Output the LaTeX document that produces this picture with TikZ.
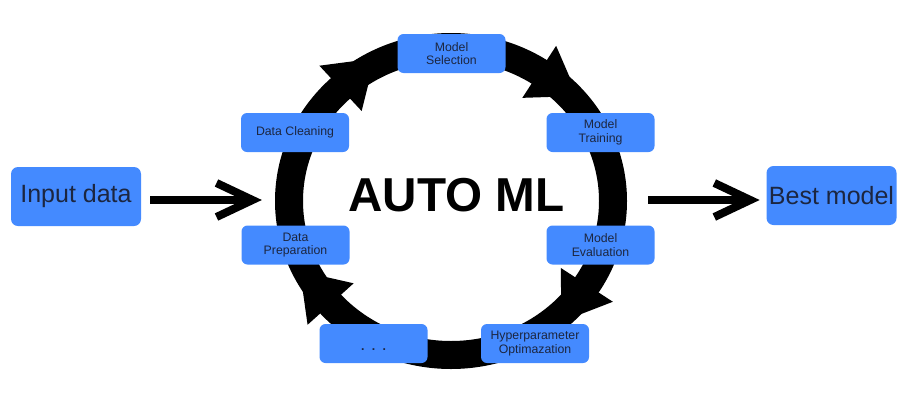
\documentclass[tikz,border=0pt]{standalone}
\usepackage{fontspec}
\setmainfont{Liberation Sans}
\definecolor{boxblue}{RGB}{68,138,255}
\definecolor{txt}{RGB}{28,38,64}
\newcommand{\ringhead}[1]{%
  \fill ({451+193*cos(#1)},{201-185*sin(#1)}) -- ({451+168*cos(#1-16)},{201-160*sin(#1-16)}) -- ({451+131*cos(#1)},{201-123*sin(#1)}) -- cycle;}
\begin{document}
\begin{tikzpicture}[x=1pt,y=-1pt,
  box/.style={fill=boxblue, rounded corners=6pt, minimum width=108pt, minimum height=39pt, inner sep=0pt, align=center, text=txt, font=\fontsize{12.3}{13.5}\selectfont},
  bigbox/.style={fill=boxblue, rounded corners=7pt, minimum width=130pt, minimum height=59pt, inner sep=0pt, text=txt, font=\fontsize{25}{30}\selectfont},
  ring/.style={line width=28pt},
  flow/.style={line width=8pt},
  chev/.style={line width=8pt, miter limit=10}]
\useasboundingbox (0,0) rectangle (902,402);
% ring
\draw[ring] (451,201) ellipse [x radius=162pt, y radius=154pt];
\ringhead{133}
\ringhead{57}
\ringhead{-33}
\ringhead{222}
% boxes
\node[box] (sel) at (451.5,53.5) {Model\\Selection};
\node[box] (train) at (600.5,132.5) {Model\\Training};
\node[box] (clean) at (295,132.5) {Data Cleaning};
\node[box] (prep) at (295.5,245) {Data\\Preparation};
\node[box] (eval) at (600.5,245) {Model\\Evaluation};
\node[box, text height=14pt, text depth=0pt] (dots) at (373.5,343.5) {\textbf{.}\hspace{7.3pt}\textbf{.}\hspace{7.3pt}\textbf{.}};
\node[box] (hyper) at (535,343.5) {Hyperparameter\\Optimazation};
\node[font=\fontsize{47.6}{50}\bfseries\selectfont, inner sep=0pt] (automl) at (456.5,195.5) {AUTO ML};
\node[bigbox] (in) at (76,196.5) {Input data};
\node[bigbox] (best) at (831.5,195.5) {Best model};
% connectors
\coordinate (ringW) at (273,200);
\coordinate (ringE) at (629,200);
\coordinate (bestW) at (best.west |- ringE);
\draw[flow, shorten <=9pt, shorten >=20pt] (in.east |- ringW) -- (ringW);
\draw[chev] ([shift={(-56.5,-17)}]ringW) -- ([shift={(-20.5,0)}]ringW) -- ([shift={(-56.5,17)}]ringW);
\draw[flow, shorten <=19pt, shorten >=16pt] (ringE) -- (bestW);
\draw[chev] ([shift={(-52,-17)}]bestW) -- ([shift={(-16,0)}]bestW) -- ([shift={(-52,17)}]bestW);
\end{tikzpicture}
\end{document}
